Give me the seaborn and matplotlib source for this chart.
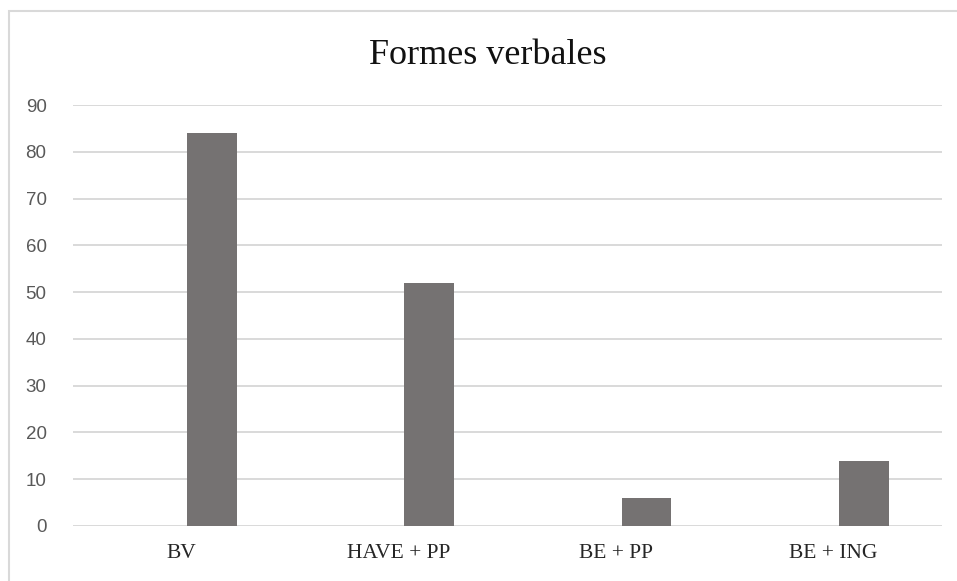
import pandas as pd
import matplotlib.pyplot as plt
import seaborn as sns
from matplotlib.patches import Rectangle

# données
categories = ['BV', 'HAVE + PP', 'BE + PP', 'BE + ING']
serie_vide = [0, 0, 0, 0]
valeurs = [84, 52, 6, 14]
yticks = [0, 10, 20, 30, 40, 50, 60, 70, 80, 90]

df = pd.DataFrame({
    'Forme': categories * 2,
    'Serie': ['vide'] * 4 + ['Formes'] * 4,
    'Valeur': serie_vide + valeurs,
})

sns.set_style('white')

fig = plt.figure(figsize=(9.57, 5.81), dpi=100)
ax = fig.add_axes([73 / 957, 1 - 526 / 581, (942 - 73) / 957, (526 - 105) / 581])

sns.barplot(data=df, x='Forme', y='Valeur', hue='Serie', hue_order=['vide', 'Formes'],
            palette=['white', '#767171'], width=0.56, gap=0.18,
            edgecolor='none', errorbar=None, legend=False, ax=ax)

ax.set_ylim(0, 90)
ax.set_xlim(-0.5, 3.5)
ax.set_yticks(yticks)
ax.grid(axis='y', color='#d9d9d9', linewidth=1.4)
ax.set_axisbelow(True)
for s in ax.spines.values():
    s.set_visible(False)
ax.tick_params(axis='both', length=0)
ax.tick_params(axis='y', pad=19, labelcolor='#595959')
ax.tick_params(axis='x', pad=13, labelcolor='#262626')
for t in ax.get_yticklabels():
    t.set_fontfamily('Liberation Sans')
    t.set_fontsize(13.5)
for t in ax.get_xticklabels():
    t.set_fontfamily('Liberation Serif')
    t.set_fontsize(15.5)
ax.set_xlabel('')
ax.set_ylabel('')

fig.text(488 / 957, 1 - 55 / 581, 'Formes verbales', ha='center', va='center',
         fontfamily='Liberation Serif', fontsize=26, color='#111111')

# cadre du graphique
fig.patches.append(Rectangle((8.5 / 957, -0.1), 1.2, 1 - 10.5 / 581 + 0.1,
                             transform=fig.transFigure, fill=False,
                             edgecolor='#d9d9d9', linewidth=1.5))

fig.savefig('out.png', dpi=100)
